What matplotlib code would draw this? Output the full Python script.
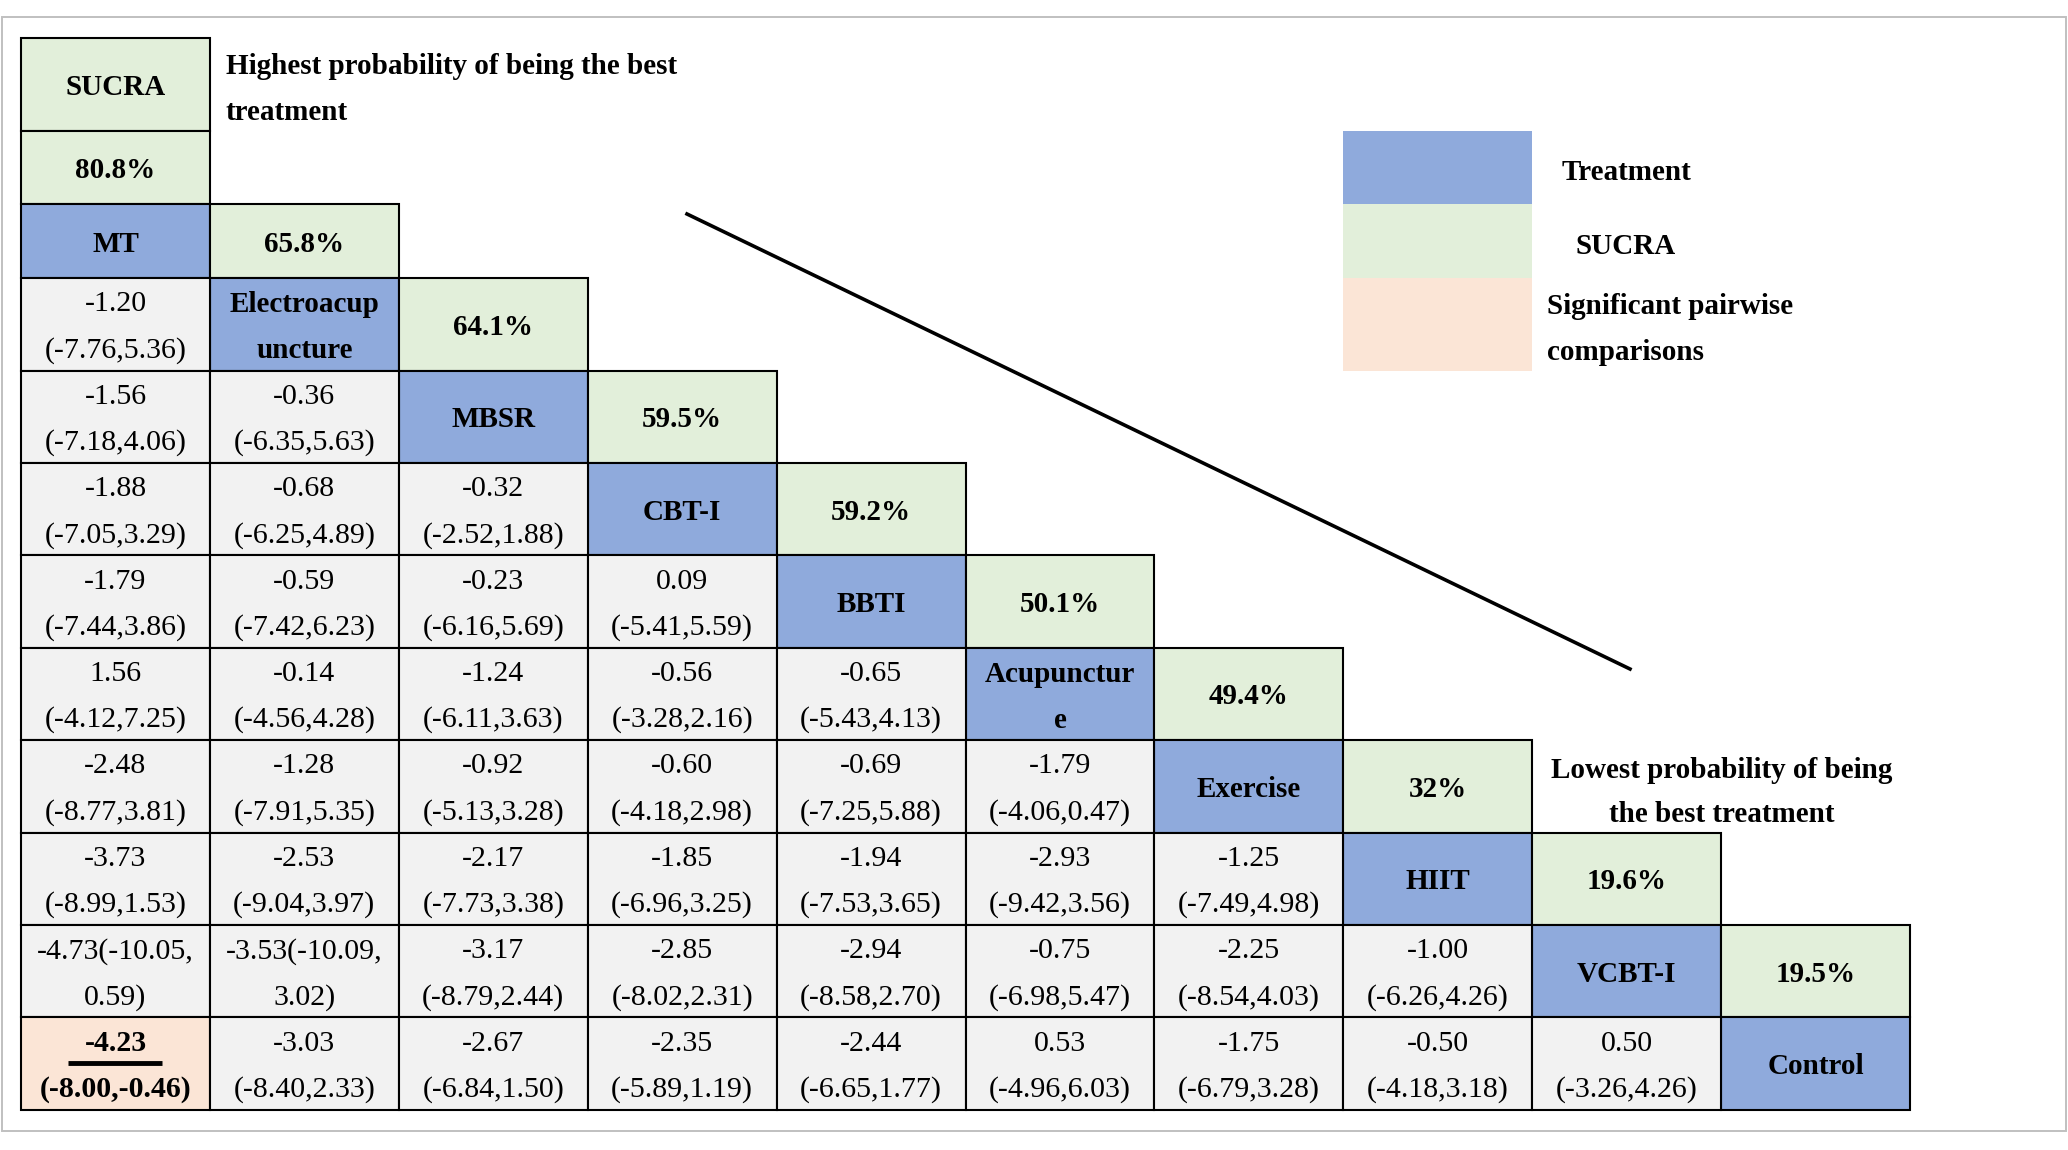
import matplotlib
matplotlib.use("Agg")
import matplotlib.pyplot as plt
from matplotlib.patches import Rectangle

# ---------------- data ----------------
treatments = ["MT", "Electroacup\nuncture", "MBSR", "CBT-I", "BBTI",
              "Acupunctur\ne", "Exercise", "HIIT", "VCBT-I", "Control"]
sucra = ["80.8%", "65.8%", "64.1%", "59.5%", "59.2%", "50.1%",
         "49.4%", "32%", "19.6%", "19.5%"]

# lower triangle: row i (treatment i) vs column j (treatment j), j < i
means = [
    [],
    [-1.20],
    [-1.56, -0.36],
    [-1.88, -0.68, -0.32],
    [-1.79, -0.59, -0.23, 0.09],
    [1.56, -0.14, -1.24, -0.56, -0.65],
    [-2.48, -1.28, -0.92, -0.60, -0.69, -1.79],
    [-3.73, -2.53, -2.17, -1.85, -1.94, -2.93, -1.25],
    [-4.73, -3.53, -3.17, -2.85, -2.94, -0.75, -2.25, -1.00],
    [-4.23, -3.03, -2.67, -2.35, -2.44, 0.53, -1.75, -0.50, 0.50],
]
lows = [
    [],
    [-7.76],
    [-7.18, -6.35],
    [-7.05, -6.25, -2.52],
    [-7.44, -7.42, -6.16, -5.41],
    [-4.12, -4.56, -6.11, -3.28, -5.43],
    [-8.77, -7.91, -5.13, -4.18, -7.25, -4.06],
    [-8.99, -9.04, -7.73, -6.96, -7.53, -9.42, -7.49],
    [-10.05, -10.09, -8.79, -8.02, -8.58, -6.98, -8.54, -6.26],
    [-8.00, -8.40, -6.84, -5.89, -6.65, -4.96, -6.79, -4.18, -3.26],
]
highs = [
    [],
    [5.36],
    [4.06, 5.63],
    [3.29, 4.89, 1.88],
    [3.86, 6.23, 5.69, 5.59],
    [7.25, 4.28, 3.63, 2.16, 4.13],
    [3.81, 5.35, 3.28, 2.98, 5.88, 0.47],
    [1.53, 3.97, 3.38, 3.25, 3.65, 3.56, 4.98],
    [0.59, 3.02, 2.44, 2.31, 2.70, 5.47, 4.03, 4.26],
    [-0.46, 2.33, 1.50, 1.19, 1.77, 6.03, 3.28, 3.18, 4.26],
]
significant = [(9, 0)]

legend_labels = ["Treatment", "SUCRA", "Significant pairwise\ncomparisons"]
top_note = "Highest probability of being the best\ntreatment"
bottom_note = "Lowest probability of being\nthe best treatment"

# ---------------- style ----------------
C_BLUE = "#8faadc"
C_GREEN = "#e2efda"
C_PEACH = "#fbe5d6"
C_GRAY = "#f2f2f2"
FONT = ["Liberation Serif", "DejaVu Serif"]
FS_NUM = 21.5
FS_LAB = 21
DY = 3  # small vertical text offset

W, H = 2068, 1150
fig = plt.figure(figsize=(W / 100, H / 100), dpi=100)
ax = fig.add_axes([0, 0, 1, 1])
ax.set_xlim(0, W)
ax.set_ylim(H, 0)
ax.axis("off")

# outer frame
ax.add_patch(Rectangle((1.5, 17), W - 4, 1131 - 17, fill=False,
                       edgecolor="#c0c0c0", lw=1.4))

x0 = 21.0
cw = 188.9
row_top = [37.7, 130.6, 204.4]
rh = 92.4
for k in range(10):
    row_top.append(row_top[-1] + (73.8 if k == 0 else rh))


def cell(col, grow, color, border=True):
    y = row_top[grow]
    h = row_top[grow + 1] - y
    ax.add_patch(Rectangle((x0 + col * cw, y), cw, h, facecolor=color,
                           edgecolor="black" if border else "none",
                           lw=1.5 if border else 0, zorder=1))
    return x0 + (col + 0.5) * cw, y + h / 2


def txt(x, y, s, ha="center", bold=True, fs=FS_LAB):
    ax.text(x, y + DY, s, ha=ha, va="center", family=FONT, fontsize=fs,
            fontweight="bold" if bold else "normal", zorder=3)


def write(cx, cy, text, bold=False, fs=FS_NUM):
    lines = text.split("\n")
    gap = 46
    n = len(lines)
    for k, line in enumerate(lines):
        yy = cy + (k - (n - 1) / 2) * gap
        txt(cx, yy, line, bold=bold, fs=fs)


# header
cx, cy = cell(0, 0, C_GREEN)
write(cx, cy, "SUCRA", bold=True, fs=FS_LAB)
cx, cy = cell(0, 1, C_GREEN)
write(cx, cy, sucra[0], bold=True, fs=FS_LAB)

for i, name in enumerate(treatments):
    g = i + 2
    cx, cy = cell(i, g, C_BLUE)
    write(cx, cy, name, bold=True, fs=FS_LAB)
    if i + 1 < len(treatments):
        cx, cy = cell(i + 1, g, C_GREEN)
        write(cx, cy, sucra[i + 1], bold=True, fs=FS_LAB)
    for j in range(i):
        sig = (i, j) in significant
        cx, cy = cell(j, g, C_PEACH if sig else C_GRAY)
        m, lo, hi = means[i][j], lows[i][j], highs[i][j]
        if lo <= -10:
            s = f"{m:.2f}({lo:.2f},\n{hi:.2f})"
        else:
            s = f"{m:.2f}\n({lo:.2f},{hi:.2f})"
        write(cx, cy, s, bold=sig, fs=FS_NUM)
        if sig:
            ax.plot([cx - 47, cx + 47], [cy - 1, cy - 1], color="black",
                    lw=3.5, solid_capstyle="butt", zorder=4)

# legend (column 7, grid rows 1..3)
leg_colors = [C_BLUE, C_GREEN, C_PEACH]
for k, col in enumerate(leg_colors):
    g = k + 1
    y = row_top[g]
    h = row_top[g + 1] - y
    ax.add_patch(Rectangle((x0 + 7 * cw, y), cw, h, facecolor=col,
                           edgecolor="none", zorder=1))
txt(1626, 169, legend_labels[0])
txt(1626, 243, legend_labels[1])
lab3 = legend_labels[2].split("\n")
txt(1547, 303, lab3[0], ha="left")
txt(1547, 349, lab3[1], ha="left")

# notes
tl = top_note.split("\n")
txt(226, 63, tl[0], ha="left")
txt(226, 109, tl[1], ha="left")
bl = bottom_note.split("\n")
txt(1722, 767, bl[0])
txt(1722, 812, bl[1])

# diagonal line
ax.plot([687, 1630], [214, 669], color="black", lw=2.6, zorder=2)

fig.savefig("out.png", dpi=100)
